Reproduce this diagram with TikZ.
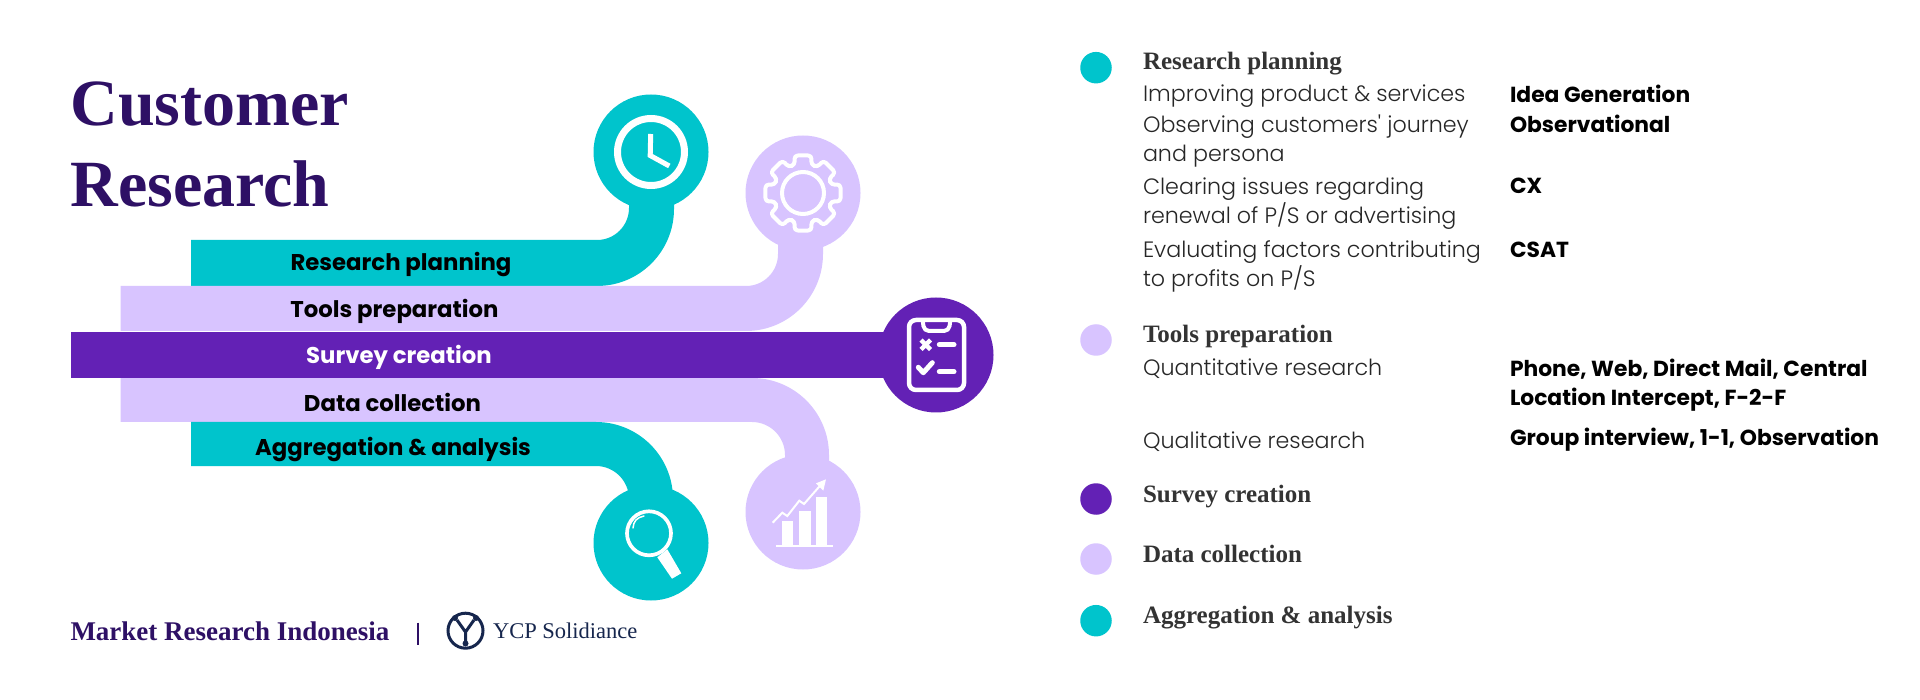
\documentclass[tikz,border=0pt]{standalone}
\usepackage{fontspec}
\setmainfont{Liberation Serif}
\newfontfamily\bodyf{Poppins Light}
\newfontfamily\boldf{Poppins}[UprightFont=* Bold]
\newfontfamily\headf{Liberation Serif Bold}
\definecolor{teal}{HTML}{00C4CC}
\definecolor{lilac}{HTML}{D8C4FF}
\definecolor{violet}{HTML}{6321B5}
\definecolor{ink}{HTML}{2E1065}
\definecolor{navy}{HTML}{16264D}
\tikzset{
  txt/.style={inner sep=0pt,outer sep=0pt,anchor=base west},
  titletxt/.style={txt,text=ink,font=\fontsize{66pt}{66pt}\selectfont\bfseries},
  bandtxt/.style={inner sep=0pt,outer sep=0pt,anchor=center,font=\boldf\fontsize{22.8pt}{26pt}\selectfont},
  headtxt/.style={txt,font=\headf\fontsize{25pt}{26pt}\selectfont,text=black!80},
  bodytxt/.style={txt,font=\bodyf\fontsize{22.2pt}{24pt}\selectfont,text=black!85},
  boldtxt/.style={txt,font=\boldf\fontsize{21.8pt}{24pt}\selectfont},
  disc/.style={circle,minimum size=115pt,inner sep=0pt,outer sep=0pt},
  dot/.style={circle,minimum size=31.5pt,inner sep=0pt,outer sep=0pt},
  icon/.style={draw=white,line width=#1,fill=none},
  icon/.default=4pt
}
\begin{document}
\begin{tikzpicture}[x=1pt,y=-1pt]
\fill[white] (0,0) rectangle (1920,700);
\useasboundingbox (0,0) rectangle (1920,700);

% bands
\fill[teal] (191,240) -- (597,240) .. controls (614.7,240) and (629,225.7) .. (629,208) -- (629,190) -- (674,190) -- (674,209) .. controls (674,251.5) and (639.5,286) .. (597,286) -- (191,286) -- cycle;
\fill[lilac] (120.6,286) -- (746,286) .. controls (763.7,286) and (778,271.7) .. (778,254) -- (778,230) -- (823,230) -- (823,254) .. controls (823,296.5) and (788.5,331) .. (746,331) -- (120.6,331) -- cycle;
\fill[lilac] (120.6,378) -- (752,378) .. controls (794.5,378) and (829,412.5) .. (829,455) -- (829,480) -- (785,480) -- (785,455) .. controls (785,436.8) and (770.2,422) .. (752,422) -- (120.6,422) -- cycle;
\fill[teal] (191,422) -- (596,422) .. controls (638.5,422) and (673,456.5) .. (673,499) -- (673,510) -- (629,510) -- (629,499) .. controls (629,480.8) and (614.2,466) .. (596,466) -- (191,466) -- cycle;
\fill[violet] (70.5,332) rectangle (900,378);

% discs
\node[disc,fill=teal] (clockdisc) at (651,152) {};
\node[disc,fill=lilac] (geardisc) at (803,193) {};
\node[disc,fill=violet] (surveydisc) at (936,355) {};
\node[disc,fill=teal] (lensdisc) at (651,543) {};
\node[disc,fill=lilac] (chartdisc) at (803,512) {};

% clock icon
\draw[icon=7pt] (clockdisc.center) circle (33.5);
\draw[icon=5pt,miter limit=10] (650.7,134) -- (650.2,155.5) -- (669.3,166);

% gear icon
\begin{scope}[shift={(803,193)}]
\draw[icon=4pt] (0,0) circle (21);
\draw[icon=4pt,rounded corners=3.5pt,line join=round]
  (-13:38.5) -- (13:38.5) -- (16:29.5) -- (29:29.5)
  -- (32:38.5) -- (58:38.5) -- (61:29.5) -- (74:29.5)
  -- (77:38.5) -- (103:38.5) -- (106:29.5) -- (119:29.5)
  -- (122:38.5) -- (148:38.5) -- (151:29.5) -- (164:29.5)
  -- (167:38.5) -- (193:38.5) -- (196:29.5) -- (209:29.5)
  -- (212:38.5) -- (238:38.5) -- (241:29.5) -- (254:29.5)
  -- (257:38.5) -- (283:38.5) -- (286:29.5) -- (299:29.5)
  -- (302:38.5) -- (328:38.5) -- (331:29.5) -- (344:29.5) -- cycle;
\end{scope}

% clipboard icon
\draw[icon=4.5pt,rounded corners=7pt] (909,320) rectangle (964,390);
\draw[icon=4pt,rounded corners=5pt] (922.7,320) -- (924,331) -- (949,331) -- (950.3,320);
\draw[icon=4.5pt] (921,340) -- (930.5,349.5) (930.5,340) -- (921,349.5);
\draw[icon=5pt,line cap=round] (939.3,344.7) -- (954,344.7);
\draw[icon=5pt,line cap=round,line join=round] (918.3,367.3) -- (923.3,372.7) -- (932.3,362.7);
\draw[icon=5pt,line cap=round] (939.3,371.7) -- (954,371.7);

% magnifier icon
\draw[icon=3.7pt] (649,533.3) circle (22);
\fill[white] (657.3,557.3) -- (667.3,549.3) -- (681.3,573.3) -- (672,578.7) -- cycle;
\draw[icon=1.5pt,line cap=round] (633,528) .. controls (633.5,521) and (637,517.5) .. (644,516);

% chart icon
\fill[white] (782.3,521.3) rectangle (793.3,545);
\fill[white] (799.3,510.7) rectangle (810.7,545);
\fill[white] (816.3,497.3) rectangle (827.3,545);
\draw[icon=2pt] (776,545.7) -- (832.7,545.7);
\draw[icon=2pt] (772.7,522.7) -- (782.3,512.7) -- (787.3,516) -- (799.3,500.7) -- (804,504) -- (820.7,485);
\fill[white] (826,479.3) -- (816,483.3) -- (823.3,490.7) -- cycle;

% band labels
\node[bandtxt] (lblplan) at (401,264.5) {Research planning};
\node[bandtxt] (lbltools) at (394.5,311.5) {Tools preparation};
\node[bandtxt,text=white] (lblsurvey) at (399,357.5) {Survey creation};
\node[bandtxt] (lbldata) at (392.5,402) {Data collection};
\node[bandtxt] (lblaggr) at (393,449.5) {Aggregation \& analysis};

% title
\node[titletxt] (title1) at (70.5,126) {Customer};
\node[titletxt] (title2) at (70.5,207) {Research};

% footer
\node[txt,text=ink,font=\fontsize{27pt}{27pt}\selectfont\bfseries] (brand) at (70.5,640.7) {Market Research Indonesia};
\draw[ink,line width=2pt] (418,622.7) -- (418,645);
\node[circle,draw=navy,line width=3pt,minimum size=35pt,inner sep=0pt] (logo) at (465.5,630.7) {};
\draw[navy,line width=3pt,line join=round] (457,620) -- (465.5,632) -- (474,620) (465.5,632) -- (465.5,643);
\fill[navy] (455,618) circle (3) (476,618) circle (3) (465.5,643.5) circle (3);
\node[txt,text=navy,font=\fontsize{22.5pt}{22.5pt}\selectfont] (ycp) at (493,638) {YCP Solidiance};

% legend dots
\node[dot,fill=teal] (d1) at (1096,67.7) {};
\node[dot,fill=lilac] (d2) at (1096,340) {};
\node[dot,fill=violet] (d3) at (1096,499) {};
\node[dot,fill=lilac] (d4) at (1096,559) {};
\node[dot,fill=teal] (d5) at (1096,620.7) {};

% legend headings
\node[headtxt] (h1) at (1143,69.5) {Research planning};
\node[headtxt] (h2) at (1143,343) {Tools preparation};
\node[headtxt] (h3) at (1143,502.2) {Survey creation};
\node[headtxt] (h4) at (1143,562.2) {Data collection};
\node[headtxt] (h5) at (1143,623.5) {Aggregation \& analysis};

% legend body
\node[bodytxt] (b1) at (1143,102) {Improving product \& services};
\node[bodytxt] (b2) at (1143,132.7) {Observing customers' journey};
\node[bodytxt] (b3) at (1143,161.7) {and persona};
\node[bodytxt] (b4) at (1143,195) {Clearing issues regarding};
\node[bodytxt] (b5) at (1143,223.7) {renewal of P/S or advertising};
\node[bodytxt] (b6) at (1143,257.7) {Evaluating factors contributing};
\node[bodytxt] (b7) at (1143,287) {to profits on P/S};
\node[bodytxt] (b8) at (1143,375.5) {Quantitative research};
\node[bodytxt] (b9) at (1143,448) {Qualitative research};

% legend bold
\node[boldtxt] (k1) at (1510,102.7) {Idea Generation};
\node[boldtxt] (k2) at (1510,132.7) {Observational};
\node[boldtxt] (k3) at (1510,194) {CX};
\node[boldtxt] (k4) at (1510,257.5) {CSAT};
\node[boldtxt] (k5) at (1510,377) {Phone, Web, Direct Mail, Central};
\node[boldtxt] (k6) at (1510,406) {Location Intercept, F-2-F};
\node[boldtxt] (k7) at (1510,446) {Group interview, 1-1, Observation};
\end{tikzpicture}
\end{document}
